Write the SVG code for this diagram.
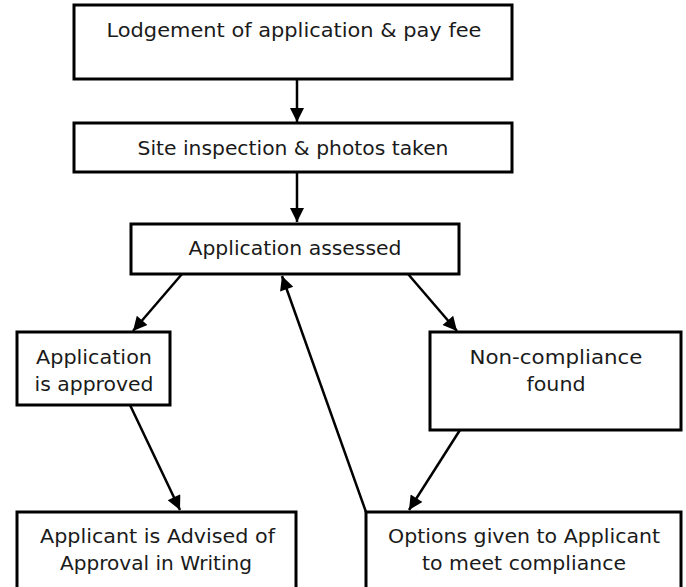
<svg xmlns="http://www.w3.org/2000/svg" width="686" height="587" viewBox="0 0 686 587">
<style>
.box{fill:#fff;stroke:#000;stroke-width:3}
.t{font-family:"DejaVu Sans","Liberation Sans",sans-serif;font-size:19px;fill:#1a1a1a;text-anchor:middle}
.c{stroke:#000;stroke-width:2.5;fill:none;marker-end:url(#ah)}
</style>
<defs>
<marker id="ah" viewBox="0 0 10 10" refX="10" refY="5" markerWidth="6.4" markerHeight="5.6" markerUnits="strokeWidth" orient="auto">
<path d="M0,0 L10,5 L0,10 z" fill="#000"/>
</marker>
</defs>
<rect width="686" height="587" fill="#fff"/>
<g id="connectors">
<line class="c" x1="297" y1="79" x2="297" y2="122"/>
<line class="c" x1="297" y1="172" x2="297" y2="222"/>
<line class="c" x1="182" y1="274" x2="133" y2="331"/>
<line class="c" x1="408" y1="274" x2="457" y2="331"/>
<line class="c" x1="130" y1="405" x2="180" y2="510"/>
<line class="c" x1="460" y1="430" x2="409" y2="510"/>
<line class="c" x1="366" y1="512" x2="282" y2="276"/>
</g>
<g id="n1"><rect class="box" x="74" y="5" width="438" height="74"/><text class="t" x="294" y="37" textLength="375" lengthAdjust="spacingAndGlyphs">Lodgement of application &amp; pay fee</text></g>
<g id="n2"><rect class="box" x="74" y="123" width="438" height="49"/><text class="t" x="293" y="155" textLength="311" lengthAdjust="spacingAndGlyphs">Site inspection &amp; photos taken</text></g>
<g id="n3"><rect class="box" x="131" y="224" width="328" height="50"/><text class="t" x="295" y="255" textLength="213" lengthAdjust="spacingAndGlyphs">Application assessed</text></g>
<g id="n4"><rect class="box" x="17" y="332" width="153" height="73"/><text class="t" x="94" y="364" textLength="116" lengthAdjust="spacingAndGlyphs">Application</text><text class="t" x="94" y="391" textLength="119" lengthAdjust="spacingAndGlyphs">is approved</text></g>
<g id="n5"><rect class="box" x="430" y="332" width="251" height="98"/><text class="t" x="556" y="364" textLength="173" lengthAdjust="spacingAndGlyphs">Non-compliance</text><text class="t" x="556" y="391" textLength="59" lengthAdjust="spacingAndGlyphs">found</text></g>
<g id="n6"><rect class="box" x="17" y="512" width="279" height="85"/><text class="t" x="157.5" y="543" textLength="235" lengthAdjust="spacingAndGlyphs">Applicant is Advised of</text><text class="t" x="156" y="570" textLength="192" lengthAdjust="spacingAndGlyphs">Approval in Writing</text></g>
<g id="n7"><rect class="box" x="366" y="512" width="315" height="85"/><text class="t" x="524" y="543" textLength="272" lengthAdjust="spacingAndGlyphs">Options given to Applicant</text><text class="t" x="524" y="570" textLength="204" lengthAdjust="spacingAndGlyphs">to meet compliance</text></g>
</svg>
